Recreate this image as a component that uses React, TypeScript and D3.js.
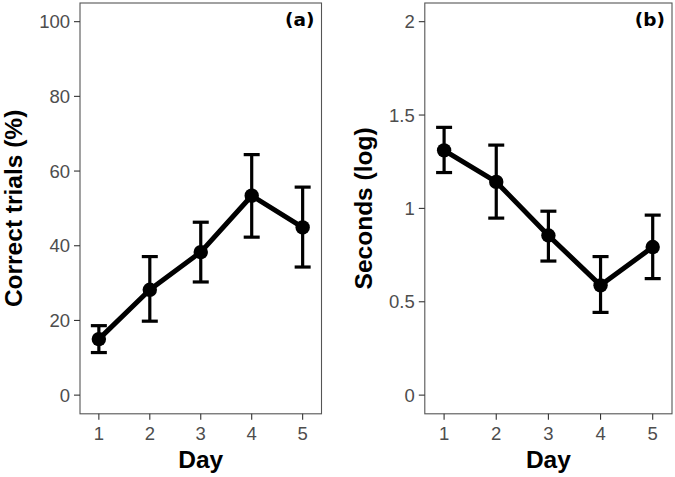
import React from "react";
import * as d3 from "d3";

const days = [1, 2, 3, 4, 5];
const correctMean = [15.0, 28.2, 38.3, 53.4, 44.9];
const correctLow = [11.4, 19.8, 30.3, 42.3, 34.3];
const correctHigh = [18.6, 37.1, 46.3, 64.4, 55.7];
const secMean = [1.311, 1.142, 0.855, 0.588, 0.793];
const secLow = [1.192, 0.948, 0.718, 0.443, 0.624];
const secHigh = [1.434, 1.339, 0.985, 0.742, 0.964];
const ticksA = [0, 20, 40, 60, 80, 100];
const ticksB = [0, 0.5, 1, 1.5, 2];

type PanelProps = {
  left: number; right: number; top: number; bottom: number;
  yDomain: [number, number]; yTicks: number[]; fmt: (v: number) => string;
  mean: number[]; low: number[]; high: number[];
  title: string; tag: string; titleX: number;
};

function Panel(p: PanelProps) {
  const x = d3.scaleLinear().domain([0.63, 5.37]).range([p.left, p.right]);
  const y = d3.scaleLinear().domain(p.yDomain).range([p.bottom, p.top]);
  const line = d3.line<number>().x((_, i) => x(days[i])).y((d) => y(d));
  const cx = (p.left + p.right) / 2;
  const cy = (p.top + p.bottom) / 2;
  return (
    <g>
      <rect x={p.left} y={p.top} width={p.right - p.left} height={p.bottom - p.top}
        fill="white" stroke="#555" strokeWidth={1.1} />
      {p.yTicks.map((t) => (
        <g key={t}>
          <line x1={p.left - 6} x2={p.left} y1={y(t)} y2={y(t)} stroke="#333" strokeWidth={1.1} />
          <text x={p.left - 10} y={y(t)} dy="0.36em" textAnchor="end" fontSize={18.5}
            fill="#4d4d4d" fontFamily="Liberation Sans, Arial, sans-serif">{p.fmt(t)}</text>
        </g>
      ))}
      {days.map((d) => (
        <g key={d}>
          <line x1={x(d)} x2={x(d)} y1={p.bottom} y2={p.bottom + 6} stroke="#333" strokeWidth={1.1} />
          <text x={x(d)} y={440} textAnchor="middle" fontSize={18.5}
            fill="#4d4d4d" fontFamily="Liberation Sans, Arial, sans-serif">{d}</text>
        </g>
      ))}
      {days.map((d, i) => (
        <g key={"e" + d} stroke="black" strokeWidth={3.2}>
          <line x1={x(d)} x2={x(d)} y1={y(p.low[i])} y2={y(p.high[i])} />
          <line x1={x(d) - 8} x2={x(d) + 8} y1={y(p.low[i])} y2={y(p.low[i])} />
          <line x1={x(d) - 8} x2={x(d) + 8} y1={y(p.high[i])} y2={y(p.high[i])} />
        </g>
      ))}
      <path d={line(p.mean) || ""} fill="none" stroke="black" strokeWidth={5} strokeLinejoin="round" />
      {days.map((d, i) => (
        <circle key={"c" + d} cx={x(d)} cy={y(p.mean[i])} r={7.2} fill="black" />
      ))}
      <text x={p.right - 7} y={26} textAnchor="end" fontSize={18.5} fontWeight="bold"
        fontFamily="DejaVu Sans, sans-serif" fill="black">{p.tag}</text>
      <text x={cx} y={468} textAnchor="middle" fontSize={24.5} fontWeight="bold"
        fontFamily="Liberation Sans, Arial, sans-serif" fill="black">Day</text>
      <text transform={`translate(${p.titleX},${cy}) rotate(-90)`} textAnchor="middle" fontSize={24.5}
        fontWeight="bold" fontFamily="Liberation Sans, Arial, sans-serif" fill="black">{p.title}</text>
    </g>
  );
}

export default function App() {
  return (
    <svg width={675} height={477} style={{ position: "absolute", left: 0, top: 0, background: "white" }}>
      <rect width={675} height={477} fill="white" />
      <Panel left={80} right={321.5} top={3} bottom={413.8} yDomain={[-5, 105]} yTicks={ticksA}
        fmt={(v) => String(v)} mean={correctMean} low={correctLow} high={correctHigh}
        title="Correct trials (%)" tag="(a)" titleX={21.5} />
      <Panel left={424.8} right={672} top={3} bottom={413.8} yDomain={[-0.1, 2.1]} yTicks={ticksB}
        fmt={(v) => String(v)} mean={secMean} low={secLow} high={secHigh}
        title="Seconds (log)" tag="(b)" titleX={372} />
    </svg>
  );
}
